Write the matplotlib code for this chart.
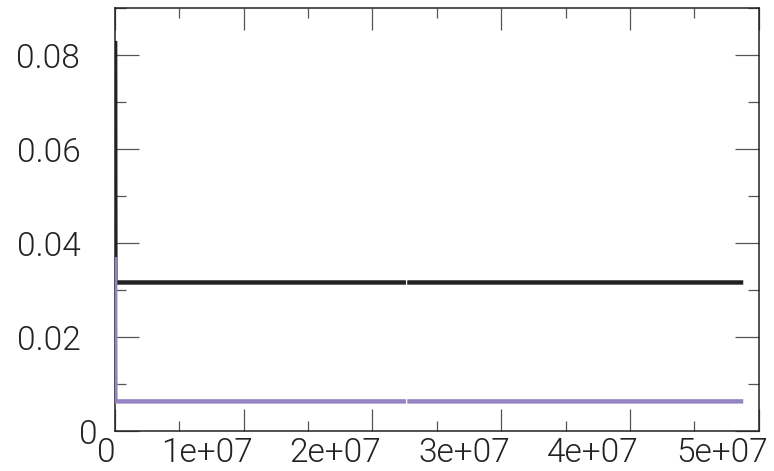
import numpy as np
import matplotlib
matplotlib.use("Agg")
import matplotlib.pyplot as plt
from matplotlib.ticker import MultipleLocator
from matplotlib.transforms import ScaledTranslation

plt.rcParams['font.family'] = ['Roboto', 'DejaVu Sans']
LABEL_WEIGHT = 300

# Series: a short start-up transient, then a flat plateau (data break near 2.27e7)
steps = [1e4, 3e4, 2.26e7, np.nan, 2.27e7, 4.88e7]
series_black = [0.083, 0.0316, 0.0316, np.nan, 0.0316, 0.0316]
series_purple = [0.037, 0.0063, 0.0063, np.nan, 0.0063, 0.0063]

x_ticks = [0, 1e7, 2e7, 3e7, 4e7, 5e7]
x_labels = ["0", "1e+07", "2e+07", "3e+07", "4e+07", "5e+07"]
y_ticks = [0, 0.02, 0.04, 0.06, 0.08]
y_labels = ["0", "0.02", "0.04", "0.06", "0.08"]

fig = plt.figure(figsize=(7.74, 4.71), dpi=100)
ax = fig.add_axes([115 / 774, 1 - 431 / 471, (758.7 - 115) / 774, (431 - 8) / 471])

ax.plot(steps, series_black, color="#222222", lw=3.2, solid_capstyle="butt", zorder=3)
ax.plot(steps, series_purple, color="#9484c2", lw=3.2, solid_capstyle="butt", zorder=4)

ax.set_xlim(0, 5e7)
ax.set_ylim(0, 0.09)

ax.set_xticks(x_ticks)
ax.set_xticklabels(x_labels)
ax.set_yticks(y_ticks)
ax.set_yticklabels(y_labels)
ax.xaxis.set_minor_locator(MultipleLocator(5e6))
ax.yaxis.set_minor_locator(MultipleLocator(0.01))

for s in ax.spines.values():
    s.set_color("#222222")
    s.set_linewidth(1.1)

ax.tick_params(which="both", direction="in", top=True, right=True, colors="#555555",
               labelcolor="#222222", labelsize=24)
ax.tick_params(axis="y", which="major", length=17, width=0.9, pad=25)
ax.tick_params(axis="y", which="minor", length=8, width=0.9)
ax.tick_params(axis="x", which="major", length=15.5, width=0.9, pad=4.5)
ax.tick_params(axis="x", which="minor", length=7.5, width=0.9)

# Tick label placement: x labels right-justified a little past each tick
for lab, txt in zip(ax.get_xticklabels(), x_labels):
    lab.set_ha("right")
    lab.set_fontweight(LABEL_WEIGHT)
    dx = 1 if txt == "0" else 9
    lab.set_transform(lab.get_transform() + ScaledTranslation(dx / 100, 0, fig.dpi_scale_trans))
for lab, txt in zip(ax.get_yticklabels(), y_labels):
    lab.set_fontweight(LABEL_WEIGHT)
    dx = 17 if txt == "0" else 0
    lab.set_transform(lab.get_transform() + ScaledTranslation(dx / 100, 0, fig.dpi_scale_trans))

fig.savefig("out.png", dpi=100)
